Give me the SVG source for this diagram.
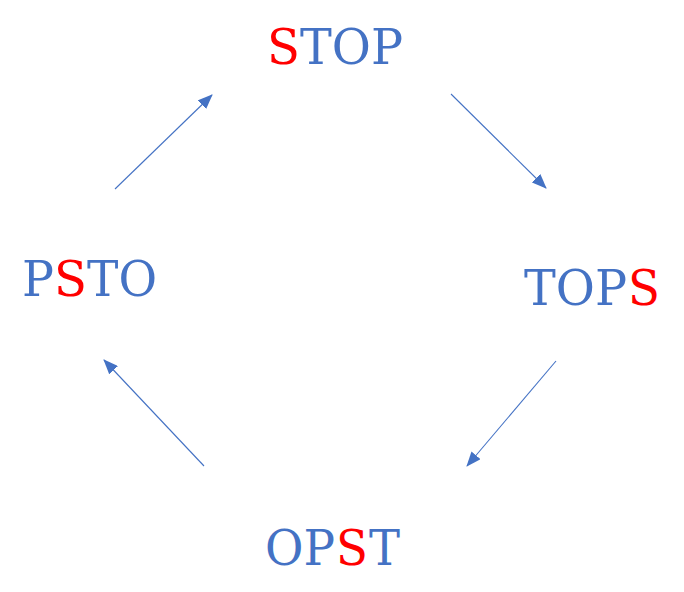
<svg xmlns="http://www.w3.org/2000/svg" width="684" height="592" viewBox="0 0 684 592">
<style>
.w{font-family:"DejaVu Serif","Liberation Serif",serif;font-size:49px;fill:#4472C4}
.r{fill:#FF0000}
.c{stroke:#4472C4;stroke-width:1.1;fill:none;marker-end:url(#ah)}
</style>
<defs>
<marker id="ah" markerWidth="15" markerHeight="12" refX="14" refY="6" orient="auto" markerUnits="userSpaceOnUse">
<path d="M0,0 L15,6 L0,12 Z" fill="#4472C4"/>
</marker>
</defs>
<rect width="684" height="592" fill="#FFFFFF"/>
<g id="node-stop">
<text class="w r" x="267" y="64" textLength="33" lengthAdjust="spacingAndGlyphs">S</text>
<text class="w" x="300" y="64" textLength="103" lengthAdjust="spacingAndGlyphs">TOP</text>
</g>
<g id="node-tops">
<text class="w" x="524" y="305" textLength="103" lengthAdjust="spacingAndGlyphs">TOP</text>
<text class="w r" x="628" y="305" textLength="32" lengthAdjust="spacingAndGlyphs">S</text>
</g>
<g id="node-opst">
<text class="w" x="265" y="565" textLength="70" lengthAdjust="spacingAndGlyphs">OP</text>
<text class="w r" x="336" y="565" textLength="32" lengthAdjust="spacingAndGlyphs">S</text>
<text class="w" x="369" y="565" textLength="31" lengthAdjust="spacingAndGlyphs">T</text>
</g>
<g id="node-psto">
<text class="w" x="22" y="296" textLength="32" lengthAdjust="spacingAndGlyphs">P</text>
<text class="w r" x="54" y="296" textLength="33" lengthAdjust="spacingAndGlyphs">S</text>
<text class="w" x="87" y="296" textLength="70" lengthAdjust="spacingAndGlyphs">TO</text>
</g>
<g id="connectors">
<line class="c" x1="115" y1="189" x2="212" y2="95"/>
<line class="c" x1="451" y1="94" x2="546" y2="188"/>
<line class="c" x1="556" y1="361" x2="467" y2="466"/>
<line class="c" x1="204" y1="466" x2="104" y2="360"/>
</g>
</svg>
